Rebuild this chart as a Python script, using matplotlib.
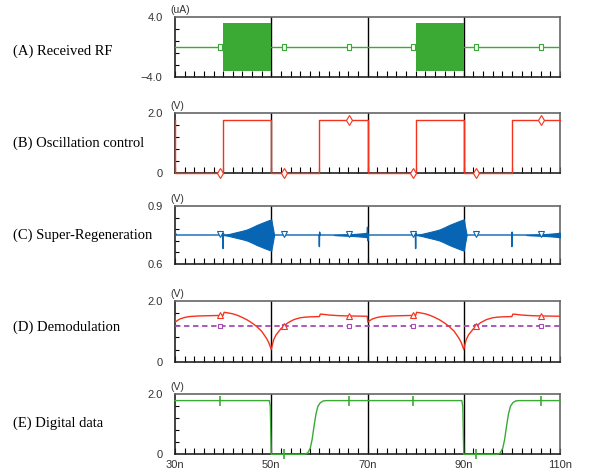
import numpy as np
import matplotlib
matplotlib.use("Agg")
import matplotlib.pyplot as plt
from matplotlib.ticker import FixedLocator, MultipleLocator

# -----------------------------
# Data
# -----------------------------
x_range = (30, 110)
x_ticks = [30, 50, 70, 90, 110]
x_tick_labels = ["30n", "50n", "70n", "90n", "110n"]
grid_x = [50, 70, 90]

marker_t = [39.4, 52.6, 66.1, 79.4, 92.6, 106.1]

# (A) Received RF
rf_t = [30, 110]
rf_v = [0.0, 0.0]
burst_start = [40, 80]
burst_end = [50, 90]
burst_amp = [3.2, 3.2]
rf_marker_v = [0, 0, 0, 0, 0, 0]

# (B) Oscillation control
osc_t = [30, 30, 40, 40, 50, 50, 60, 60, 70, 70, 80, 80, 90, 90, 100, 100, 110]
osc_v = [1.78, 0, 0, 1.78, 1.78, 0, 0, 1.78, 1.78, 0, 0, 1.78, 1.78, 0, 0, 1.78, 1.78]
osc_marker_v = [0, 0, 1.78, 0, 0, 1.78]

# (C) Super-Regeneration
sr_t = [30, 30.05, 30.1, 30.2, 39.95, 40.0, 40.05, 40.15, 59.95, 60.0, 60.05, 60.15,
        69.95, 70.0, 70.05, 70.2, 79.95, 80.0, 80.05, 80.15, 99.95, 100.0, 100.05, 100.15,
        109.9, 110]
sr_v = [0.77, 0.73, 0.76, 0.75, 0.75, 0.68, 0.76, 0.75, 0.75, 0.69, 0.765, 0.75,
        0.75, 0.79, 0.72, 0.75, 0.75, 0.68, 0.76, 0.75, 0.75, 0.69, 0.765, 0.75,
        0.75, 0.76]
sr_base = 0.75
grow_t = [40, 41, 42, 43, 44, 45, 46, 47, 48, 49, 50, 50.6]
grow_a = [0, 0.004, 0.010, 0.016, 0.022, 0.029, 0.040, 0.052, 0.062, 0.072, 0.081, 0]
grow2_t = [80, 81, 82, 83, 84, 85, 86, 87, 88, 89, 90, 90.6]
grow2_a = [0, 0.004, 0.010, 0.016, 0.022, 0.029, 0.040, 0.052, 0.062, 0.072, 0.081, 0]
noise_t = [63, 64, 65, 66, 67, 68, 69, 70]
noise_a = [0, 0.002, 0.003, 0.004, 0.005, 0.007, 0.009, 0.012]
noise2_t = [103, 104, 105, 106, 107, 108, 109, 110]
noise2_a = [0, 0.002, 0.003, 0.004, 0.005, 0.007, 0.009, 0.012]
sr_marker_v = [0.755, 0.755, 0.755, 0.755, 0.755, 0.755]

# (D) Demodulation
dem_t = [30.0, 30.05, 30.5, 31, 32, 33, 35, 40.0, 40.2, 41, 42, 43, 44, 45, 46, 47, 48,
         49, 49.5, 50.0, 50.5, 51, 51.5, 52, 52.6, 53.5, 54.7, 56, 57, 58, 60.0, 60.2,
         61, 62, 64, 66, 69.95,
         70.05, 70.5, 71, 72, 73, 75, 80.0, 80.2, 81, 82, 83, 84, 85, 86, 87, 88,
         89, 89.5, 90.0, 90.5, 91, 91.5, 92, 92.6, 93.5, 94.7, 96, 97, 98, 100.0, 100.2,
         101, 102, 104, 106, 110]
dem_v = [1.49, 1.30, 1.35, 1.40, 1.45, 1.48, 1.50, 1.52, 1.62, 1.60, 1.57, 1.52, 1.45,
         1.37, 1.27, 1.15, 1.00, 0.77, 0.62, 0.40, 0.72, 0.88, 0.98, 1.08, 1.16, 1.28,
         1.38, 1.44, 1.46, 1.47, 1.48, 1.56, 1.55, 1.53, 1.51, 1.50, 1.49,
         1.30, 1.35, 1.40, 1.45, 1.48, 1.50, 1.52, 1.62, 1.60, 1.57, 1.52, 1.45,
         1.37, 1.27, 1.15, 1.00, 0.77, 0.62, 0.40, 0.72, 0.88, 0.98, 1.08, 1.16, 1.28,
         1.38, 1.44, 1.46, 1.47, 1.48, 1.56, 1.55, 1.53, 1.51, 1.50, 1.49]
dem_marker_v = [1.52, 1.16, 1.50, 1.52, 1.16, 1.50]
ref_t = [30, 110]
ref_v = [1.18, 1.18]
ref_marker_v = [1.18, 1.18, 1.18, 1.18, 1.18, 1.18]

# (E) Digital data
dig_t = [30, 49.6, 49.8, 50.0, 57.0, 57.6, 58.1, 58.5, 58.9, 59.3, 59.7, 60.2, 60.8, 61.5,
         89.6, 89.8, 90.0, 97.0, 97.6, 98.1, 98.5, 98.9, 99.3, 99.7, 100.2, 100.8, 101.5, 110]
dig_v = [1.79, 1.79, 1.60, 0.0, 0.0, 0.05, 0.20, 0.50, 0.95, 1.35, 1.60, 1.72, 1.78, 1.79,
         1.79, 1.60, 0.0, 0.0, 0.05, 0.20, 0.50, 0.95, 1.35, 1.60, 1.72, 1.78, 1.79, 1.79]
dig_marker_v = [1.79, 0, 1.79, 1.79, 0, 1.79]

panel_names = ["(A) Received RF", "(B) Oscillation control", "(C) Super-Regeneration",
               "(D) Demodulation", "(E) Digital data"]
panel_units = ["(uA)", "(V)", "(V)", "(V)", "(V)"]
panel_ylim = [(-4.0, 4.0), (0, 2.0), (0.6, 0.9), (0, 2.0), (0, 2.0)]
panel_ylabels = [("\u22124.0", "4.0"), ("0", "2.0"), ("0.6", "0.9"), ("0", "2.0"), ("0", "2.0")]

# -----------------------------
# Layout (pixel boxes of the reference)
# -----------------------------
W, H = 590, 470
left_px, right_px = 175, 560
boxes = [(17.3, 77.3), (113.3, 172.7), (206, 264), (300.7, 361.7), (394.3, 454.3)]
label_y = [51, 143, 235, 327, 423]

GREEN = "#3aaa35"
RED = "#f5321c"
BLUE = "#0865b3"
PURPLE = "#a64bb4"

# tall narrow box used as marker in (A)
bar_marker = [(-0.45, -1), (0.45, -1), (0.45, 1), (-0.45, 1), (-0.45, -1)]

plt.rcParams["font.family"] = ["Liberation Sans", "DejaVu Sans"]
fig = plt.figure(figsize=(W / 100, H / 100), dpi=100)

axes = []
for i, (top, bot) in enumerate(boxes):
    ax = fig.add_axes([left_px / W, 1 - bot / H, (right_px - left_px) / W, (bot - top) / H])
    lo, hi = panel_ylim[i]
    ax.set_xlim(*x_range)
    ax.set_ylim(lo, hi)
    for s in ax.spines.values():
        s.set_color("#666666")
        s.set_linewidth(1.2)
    ax.spines["bottom"].set_color("#222222")
    ax.spines["left"].set_color("#222222")
    for gx in grid_x:
        ax.axvline(gx, color="black", lw=1.0, zorder=1)
    ax.set_yticks([lo, hi])
    ax.set_yticklabels(panel_ylabels[i])
    ax.yaxis.set_minor_locator(FixedLocator(np.linspace(lo, hi, 6)[1:-1]))
    ax.tick_params(axis="y", which="major", length=0, pad=9, labelsize=8, labelcolor="#333333")
    ax.tick_params(axis="y", which="minor", length=3, direction="in", width=0.8)
    ax.set_xticks(x_ticks)
    ax.xaxis.set_minor_locator(MultipleLocator(2))
    ax.tick_params(axis="x", which="both", length=4, direction="in", width=0.8)
    if i < 4:
        ax.set_xticklabels([])
    else:
        ax.set_xticklabels(x_tick_labels)
        ax.tick_params(axis="x", which="major", pad=4, labelsize=8, labelcolor="#333333")
    ax.annotate(panel_units[i], xy=(0, 1), xycoords="axes fraction", xytext=(-3, 1.5),
                textcoords="offset points", ha="left", va="bottom", fontsize=7.5, color="#333333")
    fig.text(13 / W, 1 - label_y[i] / H, panel_names[i], family=["Liberation Serif", "DejaVu Serif"],
             fontsize=10.5, va="center", ha="left")
    axes.append(ax)

mk = dict(linestyle="none", markerfacecolor="white", zorder=5, clip_on=False)

# (A)
ax = axes[0]
ax.plot(rf_t, rf_v, color=GREEN, lw=1.0, zorder=3)
for s, e, a in zip(burst_start, burst_end, burst_amp):
    ax.fill_between([s, e], [-a, -a], [a, a], color=GREEN, lw=0, zorder=3)
ax.plot(marker_t, rf_marker_v, marker=bar_marker, markersize=5, markeredgecolor=GREEN,
        markeredgewidth=0.8, **mk)

# (B)
ax = axes[1]
ax.plot(osc_t, osc_v, color=RED, lw=1.0, zorder=3, clip_on=False)
ax.plot(marker_t, osc_marker_v, marker="d", markersize=5, markeredgecolor=RED,
        markeredgewidth=0.8, **mk)

# (C)
ax = axes[2]
ax.plot(sr_t, sr_v, color=BLUE, lw=1.0, zorder=3)
for tt, aa in [(grow_t, grow_a), (grow2_t, grow2_a), (noise_t, noise_a), (noise2_t, noise2_a)]:
    aa = np.array(aa)
    ax.fill_between(tt, sr_base - aa, sr_base + aa, color=BLUE, lw=0.8, edgecolor=BLUE, zorder=3)
ax.plot(marker_t, sr_marker_v, marker="v", markersize=4, markeredgecolor=BLUE,
        markeredgewidth=0.8, **mk)

# (D)
ax = axes[3]
ax.plot(ref_t, ref_v, color=PURPLE, lw=1.3, linestyle=(0, (3, 2)), zorder=3)
ax.plot(marker_t, ref_marker_v, marker="s", markersize=3.5, markeredgecolor=PURPLE,
        markeredgewidth=0.8, **mk)
ax.plot(dem_t, dem_v, color=RED, lw=1.0, zorder=4)
ax.plot(marker_t, dem_marker_v, marker="^", markersize=4, markeredgecolor=RED,
        markeredgewidth=0.8, **mk)

# (E)
ax = axes[4]
ax.plot(dig_t, dig_v, color=GREEN, lw=1.0, zorder=3, clip_on=False)
ax.plot(marker_t, dig_marker_v, marker="|", markersize=7, markeredgecolor=GREEN,
        markeredgewidth=1.2, linestyle="none", zorder=5, clip_on=False)

fig.savefig("out.png", dpi=100)
